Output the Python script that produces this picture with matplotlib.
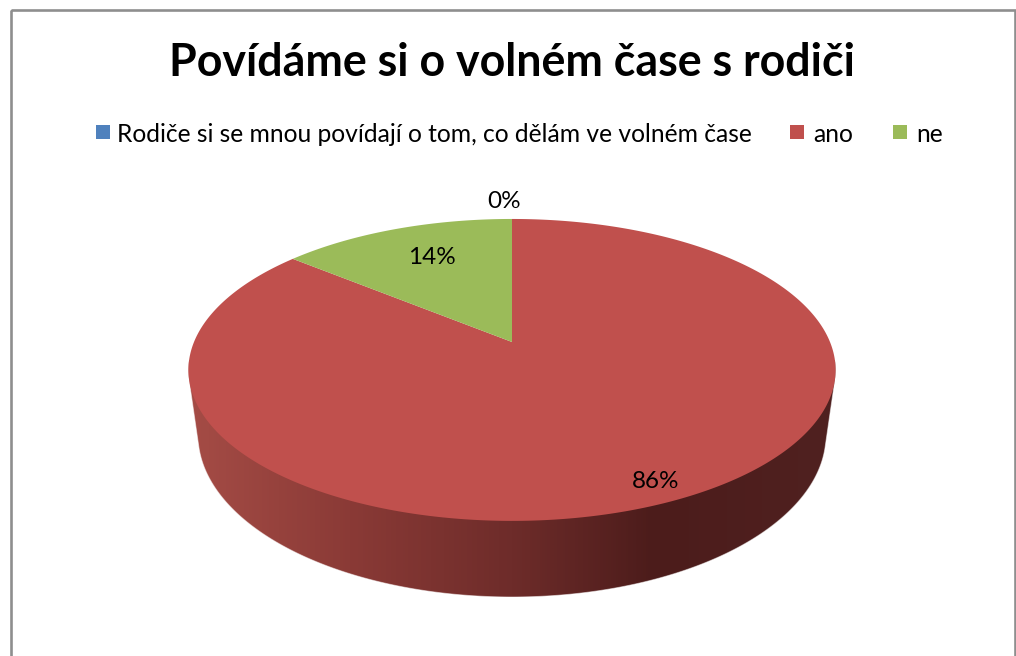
import numpy as np
import matplotlib
matplotlib.use("Agg")
import matplotlib.pyplot as plt
from matplotlib.colors import LinearSegmentedColormap
from matplotlib.patches import Polygon, Rectangle

title = "Povídáme si o volném čase s rodiči"
categories = ["Rodiče si se mnou povídají o tom, co dělám ve volném čase", "ano", "ne"]
values = [0, 86, 14]
labels = ["0%", "86%", "14%"]
colors = ["#4F81BD", "#C0504D", "#9BBB59"]

W, H = 1016, 656
plt.rcParams["font.family"] = ["Lato", "DejaVu Sans"]
fig = plt.figure(figsize=(W / 100, H / 100), dpi=100)
ax = fig.add_axes([0, 0, 1, 1])
ax.set_xlim(0, W)
ax.set_ylim(H, 0)
ax.axis("off")

# frame
ax.add_patch(Rectangle((11, 10), 1004, 800, fill=False, ec="#8E8E8E", lw=1.9))

CX, CY, A, B, K = 512, 342, 318, 145.8, 0.185


def project(theta):
    # theta measured clockwise from the back of the pie
    u, v = np.sin(theta), np.cos(theta)
    d = 1 + K * v
    return CX + A * u / d, CY - B * v / d


def convex_hull(points):
    pts = sorted(set(map(tuple, points)))

    def half(seq):
        out = []
        for p in seq:
            while len(out) > 1 and (out[-1][0] - out[-2][0]) * (p[1] - out[-2][1]) - (
                out[-1][1] - out[-2][1]
            ) * (p[0] - out[-2][0]) <= 0:
                out.pop()
            out.append(p)
        return out[:-1]

    return np.array(half(pts) + half(pts[::-1]))


# side wall: horizontal gradient clipped to the silhouette of the two rims
th = np.linspace(0, 2 * np.pi, 721)
lower_rim = np.c_[CX + 314 * np.sin(th), 435 - 162 * np.cos(th)]
hull = convex_hull(np.r_[np.c_[project(th)], lower_rim])
cmap = LinearSegmentedColormap.from_list(
    "side",
    [(0, "#A54C46"), (0.25, "#8A3A36"), (0.5, "#6E2C2A"), (0.72, "#4C1C1B"), (1, "#502120")],
)
img = ax.imshow(
    np.linspace(0, 1, 648)[None, :], cmap=cmap, extent=(188, 836, 600, 360),
    aspect="auto", interpolation="bilinear", zorder=1,
)
ax.set_xlim(0, W)
ax.set_ylim(H, 0)
clip = Polygon(hull, closed=True, transform=ax.transData)
img.set_clip_path(clip)
ax.add_patch(Polygon(hull, closed=True, fill=False, ec=(1, 1, 1, 0.5), lw=0.7, zorder=2))

# top slices
start = 0.0
total = sum(values)
for val, col in zip(values, colors):
    if val == 0:
        continue
    t = np.linspace(start, start + 2 * np.pi * val / total, 400)
    x, y = project(t)
    ax.add_patch(Polygon(np.r_[[[CX, CY]], np.c_[x, y]], closed=True, fc=col, ec="none", zorder=3))
    start += 2 * np.pi * val / total

# text
ax.text(512, 63, title, ha="center", va="center", fontsize=32.2, fontweight="bold", color="black", zorder=5)
ax.add_patch(Rectangle((96, 125), 14, 14, fc=colors[0], ec="none"))
ax.add_patch(Rectangle((790, 125), 14, 14, fc=colors[1], ec="none"))
ax.add_patch(Rectangle((893, 125), 14, 14, fc=colors[2], ec="none"))
ax.text(117, 134, categories[0], ha="left", va="center", fontsize=17.7)
ax.text(813, 134, categories[1], ha="left", va="center", fontsize=17.7)
ax.text(916, 134, categories[2], ha="left", va="center", fontsize=17.7)
ax.text(504, 202, labels[0], ha="center", va="center", fontsize=17.5, zorder=5)
ax.text(432, 258, labels[2], ha="center", va="center", fontsize=17.5, zorder=5)
ax.text(656, 482, labels[1], ha="center", va="center", fontsize=17.5, zorder=5)

fig.savefig("out.png", dpi=100, facecolor="white")
